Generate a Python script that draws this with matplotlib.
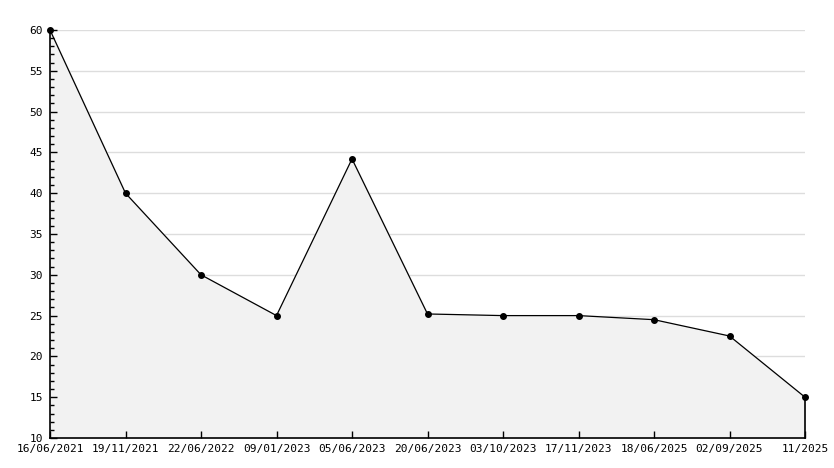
import matplotlib
matplotlib.use("Agg")
import matplotlib.pyplot as plt
from matplotlib.ticker import MultipleLocator

dates = ["16/06/2021", "19/11/2021", "22/06/2022", "09/01/2023", "05/06/2023",
         "20/06/2023", "03/10/2023", "17/11/2023", "18/06/2025", "02/09/2025", "11/2025"]
values = [60, 40, 30, 25, 44.2, 25.2, 25, 25, 24.5, 22.5, 15]

fig = plt.figure(figsize=(8.34, 4.68), dpi=100)
ax = fig.add_axes([50/834, 30/468, 755/834, 408/468])
x = list(range(len(dates)))
for gy in range(15, 61, 5):
    ax.axhline(gy, color="#dddddd", lw=1, zorder=0)
ax.fill_between(x, values, 10, color="#f2f2f2", zorder=1)
ax.plot([x[-1], x[-1]], [values[-1], 10], color="black", lw=1.2, zorder=2, clip_on=False)
ax.plot(x, values, color="black", lw=0.9, marker="o", markersize=4, zorder=3, clip_on=False)
ax.set_xlim(0, len(dates) - 1)
ax.set_ylim(10, 60)
ax.yaxis.set_major_locator(MultipleLocator(5))
ax.yaxis.set_minor_locator(MultipleLocator(1))
ax.set_xticks(x)
ax.set_xticklabels(dates)
for s in ["top", "right"]:
    ax.spines[s].set_visible(False)
for s in ["left", "bottom"]:
    ax.spines[s].set_linewidth(1.2)
ax.tick_params(axis="y", which="major", direction="in", length=5, width=1, labelsize=8, pad=5)
ax.tick_params(axis="y", which="minor", direction="in", length=3, width=1)
ax.tick_params(axis="x", direction="in", length=5, width=1, labelsize=8, pad=4)
for lab in ax.get_xticklabels() + ax.get_yticklabels():
    lab.set_fontfamily("DejaVu Sans Mono")
ax.set_axisbelow(False)
fig.savefig("out.png", dpi=100)
